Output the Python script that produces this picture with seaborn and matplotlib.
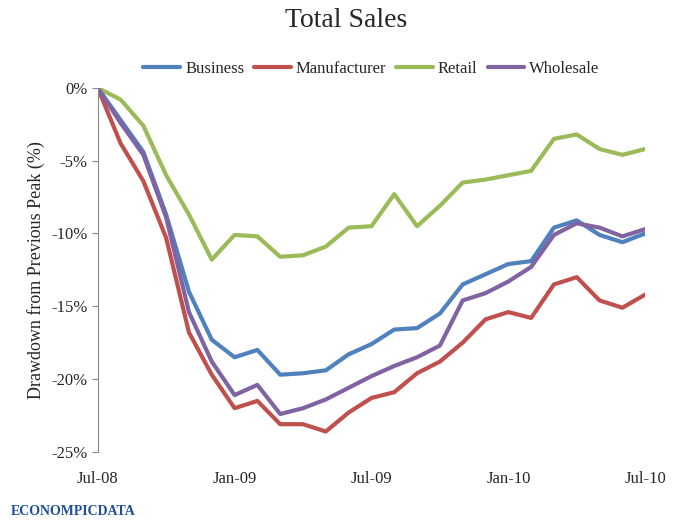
import matplotlib
matplotlib.use("Agg")
import matplotlib.pyplot as plt
import seaborn as sns
import pandas as pd
import numpy as np

business = [0, -2.2, -4.4, -8.7, -14.0, -17.3, -18.5, -18.0, -19.7, -19.6, -19.4, -18.3, -17.6, -16.6, -16.5, -15.5, -13.5, -12.8, -12.1, -11.9, -9.6, -9.1, -10.1, -10.6, -10.0]
manufacturer = [0, -3.8, -6.4, -10.3, -16.8, -19.7, -22.0, -21.5, -23.1, -23.1, -23.6, -22.3, -21.3, -20.9, -19.6, -18.8, -17.5, -15.9, -15.4, -15.8, -13.5, -13.0, -14.6, -15.1, -14.2]
retail = [0, -0.8, -2.6, -6.0, -8.7, -11.8, -10.1, -10.2, -11.6, -11.5, -10.9, -9.6, -9.5, -7.3, -9.5, -8.1, -6.5, -6.3, -6.0, -5.7, -3.5, -3.2, -4.2, -4.6, -4.2]
wholesale = [0, -2.4, -4.6, -8.9, -15.4, -18.8, -21.1, -20.4, -22.4, -22.0, -21.4, -20.6, -19.8, -19.1, -18.5, -17.7, -14.6, -14.1, -13.3, -12.3, -10.1, -9.3, -9.6, -10.2, -9.7]
tick_labels = ["Jul-08", "Jan-09", "Jul-09", "Jan-10", "Jul-10"]

df = pd.DataFrame({"idx": range(25), "Business": business, "Manufacturer": manufacturer,
                   "Retail": retail, "Wholesale": wholesale}).melt("idx", var_name="s", value_name="v")

sns.set_style("white")
plt.rcParams["font.family"] = ["Liberation Serif", "DejaVu Serif"]
fig, ax = plt.subplots(figsize=(6.93, 5.23), dpi=100)
fig.subplots_adjust(left=0.141, right=0.931, top=0.832, bottom=0.136)
pal = {"Business": "#4F81BD", "Manufacturer": "#C0504D", "Retail": "#9BBB59", "Wholesale": "#8064A2"}
sns.lineplot(data=df, x="idx", y="v", hue="s", palette=pal, lw=3, ax=ax)
ax.set_xlim(0, 24)
ax.set_ylim(-25, 0)
ax.set_yticks(np.arange(-25, 1, 5))
ax.set_yticklabels([f"{t}%" for t in range(-25, 1, 5)], fontsize=12)
ax.set_xticks([0, 6, 12, 18, 24])
ax.set_xticklabels(tick_labels, fontsize=12)
ax.tick_params(axis="x", pad=14, length=0)
ax.set_xlabel("")
ax.set_ylabel("Drawdown from Previous Peak (%)", fontsize=13)
for s in ["top", "right", "bottom"]:
    ax.spines[s].set_visible(False)
ax.spines["left"].set_color("#888888")
ax.tick_params(axis="y", length=4, left=True, color="#888888")
ax.legend(loc="lower center", bbox_to_anchor=(0.5, 0.99), ncol=4, frameon=False, fontsize=12,
          handlelength=2.2, columnspacing=0.6, handletextpad=0.3)
fig.suptitle("Total Sales", fontsize=20, y=0.985)
fig.text(0.015, 0.015, "ECONOMPICDATA", fontsize=10, fontweight="bold", color="#1F4E9A")
fig.savefig("out.png", dpi=100)
